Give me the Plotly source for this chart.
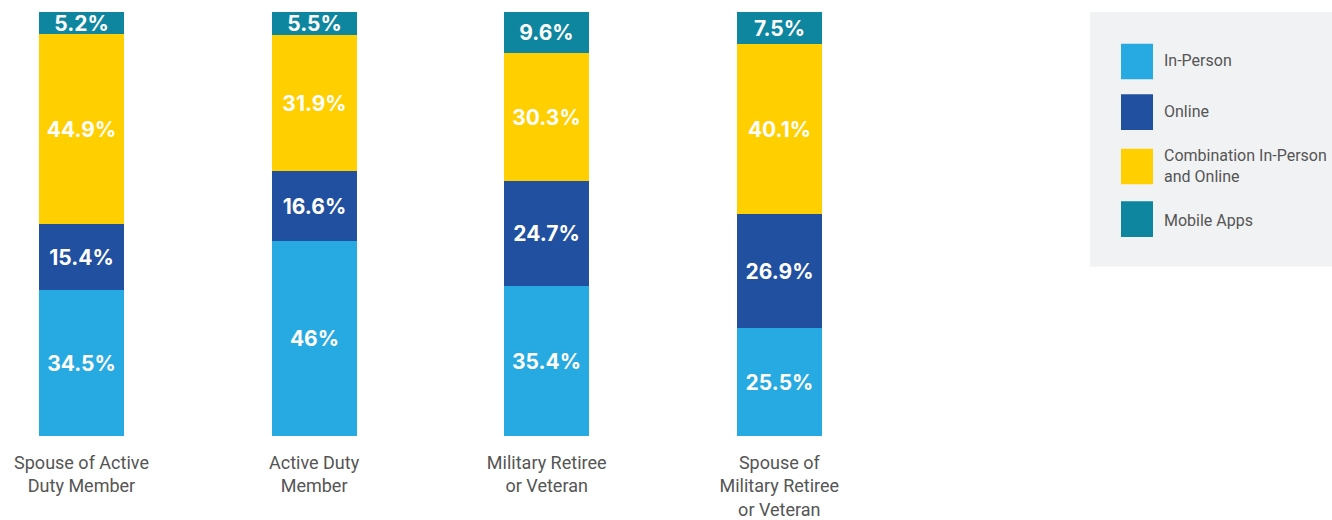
import plotly.graph_objects as go

categories = ["Spouse of Active<br>Duty Member", "Active Duty<br>Member",
              "Military Retiree<br>or Veteran", "Spouse of<br>Military Retiree<br>or Veteran"]
series_names = ["In-Person", "Online", "Combination In-Person<br>and Online", "Mobile Apps"]
in_person = [34.5, 46, 35.4, 25.5]
online = [15.4, 16.6, 24.7, 26.9]
combination = [44.9, 31.9, 30.3, 40.1]
mobile = [5.2, 5.5, 9.6, 7.5]
colors = ["#27a9e1", "#2150a0", "#ffcf00", "#0e86a0"]

W, H = 1332, 520
T = 12
B = 80
plot_h = H - T - B
BOT = H - B

fig = go.Figure()
for name, vals, col in zip(series_names, [in_person, online, combination, mobile], colors):
    fig.add_trace(go.Bar(
        x=categories, y=vals, name=name, marker=dict(color=col, line=dict(width=0)),
        width=0.365,
        text=[f"{v:g}%" for v in vals], textposition="inside", insidetextanchor="middle",
        constraintext="none", textangle=0,
        textfont=dict(family="Inter, Roboto, sans-serif", size=21, color="white", weight="bold"),
        showlegend=False, hoverinfo="skip",
    ))

def px2paper(px):
    return px / W

def py2paper(py):
    return (BOT - py) / plot_h

shapes = [dict(type="rect", xref="paper", yref="paper",
               x0=px2paper(1090), x1=px2paper(1332), y0=py2paper(269), y1=py2paper(12),
               fillcolor="#f1f2f4", line=dict(width=0), layer="below")]
sq = [(44, 80), (95, 131), (150, 186), (203, 239)]
text_y = [61, 112, 167, 222]
annotations = []
for (y0, y1), ty, col, name in zip(sq, text_y, colors, series_names):
    shapes.append(dict(type="rect", xref="paper", yref="paper",
                       x0=px2paper(1121), x1=px2paper(1153), y0=py2paper(y1), y1=py2paper(y0),
                       fillcolor=col, line=dict(width=0)))
    annotations.append(dict(xref="paper", yref="paper", x=px2paper(1162), y=py2paper(ty),
                            text=name, showarrow=False, xanchor="left", yanchor="middle",
                            align="left",
                            font=dict(family="Roboto, sans-serif", size=16, color="#555555")))

x0 = -81.5 / 232.6
fig.update_layout(
    width=W, height=H, barmode="stack", bargap=0,
    margin=dict(l=0, r=0, t=T, b=B),
    paper_bgcolor="white", plot_bgcolor="white",
    shapes=shapes, annotations=annotations,
    xaxis=dict(range=[x0, x0 + W / 232.6], showgrid=False, zeroline=False, showline=False,
               ticks="", tickfont=dict(family="Roboto, sans-serif", size=18, color="#555555"),
               ticklabelstandoff=14),
    yaxis=dict(range=[0, 100], visible=False),
)

fig.write_html("out.html", config={"displayModeBar": False},
               post_script="document.body.style.margin='0';document.body.style.overflow='hidden';")
